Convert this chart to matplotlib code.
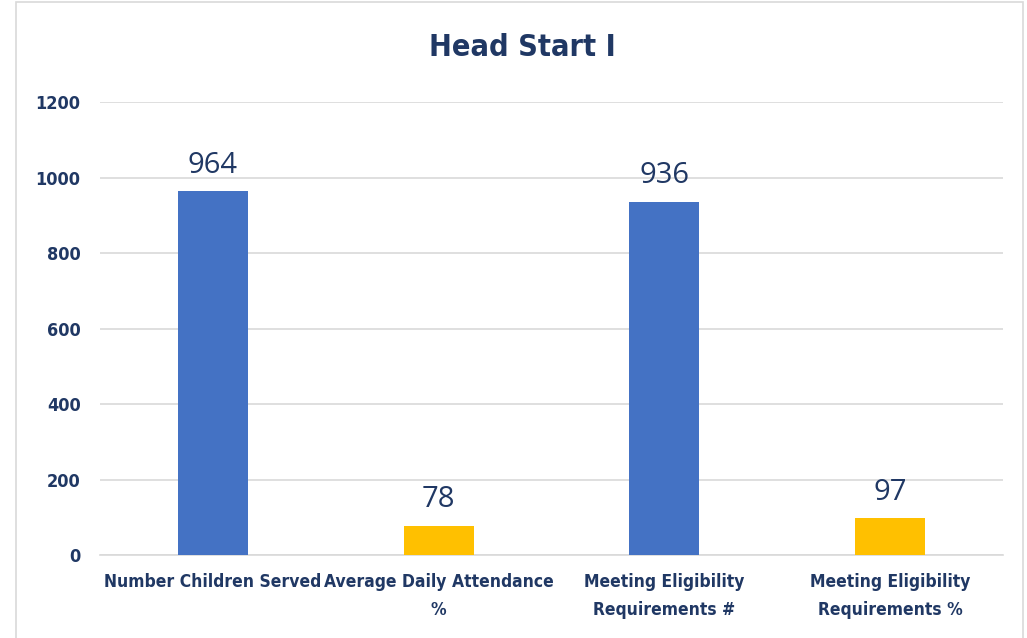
import matplotlib.pyplot as plt
from matplotlib.patches import Rectangle

categories = ["Number Children Served", "Average Daily Attendance\n%",
              "Meeting Eligibility\nRequirements #", "Meeting Eligibility\nRequirements %"]
values = [964, 78, 936, 97]
bar_colors = ["#4472C4", "#FFC000", "#4472C4", "#FFC000"]
yticks = [0, 200, 400, 600, 800, 1000, 1200]

navy = "#203864"
fam = ["DejaVu Sans"]

fig = plt.figure(figsize=(10.27, 6.38), dpi=100)
ax = fig.add_axes([0.0974, 0.130, 0.879, 0.710])

x = list(range(len(values)))
ax.bar(x, values, width=0.31, color=bar_colors, zorder=3)
for xi, v in zip(x, values):
    ax.text(xi, v + 30, str(v), ha="center", va="bottom", fontsize=21,
            color=navy, family=["Open Sans", "DejaVu Sans"], fontweight="medium")

ax.set_xlim(-0.5, len(values) - 0.5)
ax.set_ylim(0, 1200)
ax.set_yticks(yticks)
ax.set_yticklabels([str(t) for t in yticks], fontsize=13, color=navy,
                   family=fam, fontweight="bold", fontstretch="condensed")
ax.set_xticks(x)
ax.set_xticklabels(categories, fontsize=12.5, color=navy, family=fam,
                   fontweight="bold", fontstretch="condensed", linespacing=1.7)
ax.tick_params(axis="both", length=0)
ax.tick_params(axis="y", pad=14)
ax.tick_params(axis="x", pad=13)
ax.grid(axis="y", color="#D9D9D9", linewidth=1.2, zorder=0)
for side in ["top", "right", "left"]:
    ax.spines[side].set_visible(False)
ax.spines["bottom"].set_color("#D9D9D9")
ax.spines["bottom"].set_linewidth(1.2)

fig.text(0.509, 0.925, "Head Start I", ha="center", va="center", fontsize=22,
         color=navy, family=fam, fontweight="bold", fontstretch="condensed")

fig.patches.append(Rectangle((16 / 1027, -0.01), 1007 / 1027, 1 - 2 / 638 + 0.01,
                             transform=fig.transFigure, fill=False,
                             edgecolor="#D9D9D9", linewidth=1.2))

fig.savefig("out.png", dpi=100)
